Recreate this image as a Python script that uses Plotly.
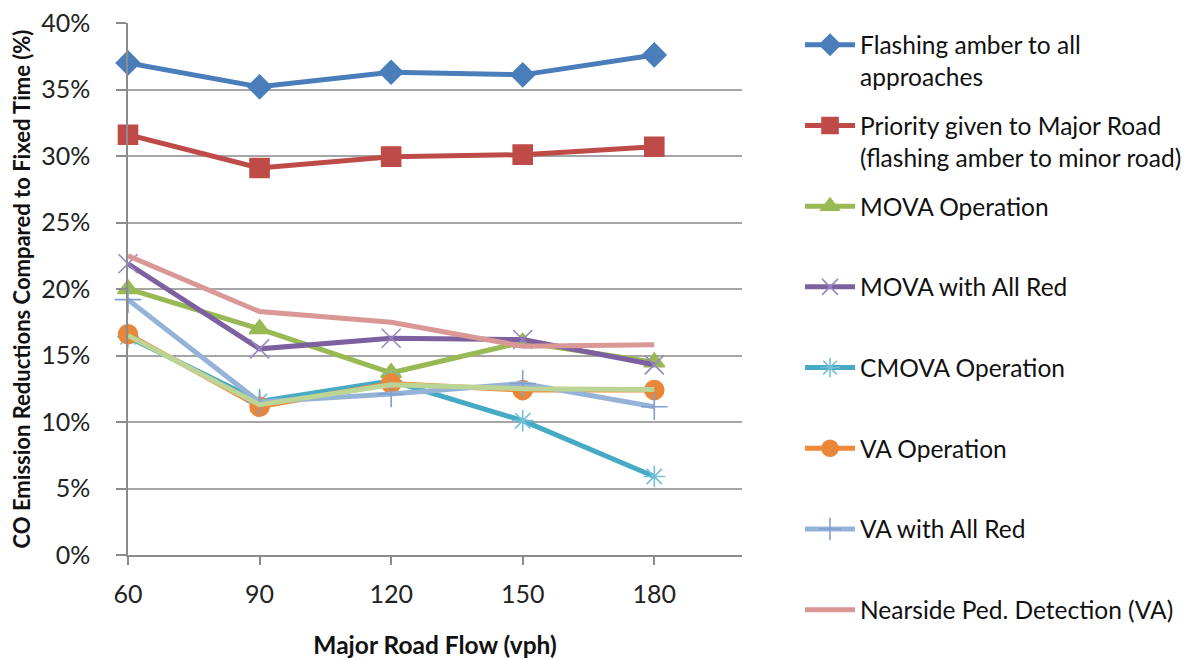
import plotly.graph_objects as go

flow = [60, 90, 120, 150, 180]
x_ticks = [60, 90, 120, 150, 180]
y_ticks = [0, 0.05, 0.10, 0.15, 0.20, 0.25, 0.30, 0.35, 0.40]
y_tick_labels = ["0%", "5%", "10%", "15%", "20%", "25%", "30%", "35%", "40%"]

flashing_all = [0.370, 0.352, 0.363, 0.361, 0.376]
priority_major = [0.316, 0.291, 0.2995, 0.301, 0.307]
mova_op = [0.200, 0.170, 0.137, 0.160, 0.145]
mova_all_red = [0.219, 0.155, 0.163, 0.162, 0.143]
cmova_op = [0.164, 0.1155, 0.131, 0.101, 0.059]
va_op = [0.166, 0.1115, 0.129, 0.124, 0.124]
va_all_red = [0.192, 0.115, 0.121, 0.129, 0.1115]
nearside_ped = [0.225, 0.183, 0.175, 0.157, 0.158]
unlabeled_series = [0.165, 0.113, 0.128, 0.125, 0.1245]

names = [
    "Flashing amber to all<br>approaches",
    "Priority given to Major Road<br>(flashing amber to minor road)",
    "MOVA Operation<br> ",
    "MOVA with All Red<br> ",
    "CMOVA Operation<br> ",
    "VA Operation<br> ",
    "VA with All Red<br> ",
    "Nearside Ped. Detection (VA)<br> ",
]

series = [flashing_all, priority_major, mova_op, mova_all_red, cmova_op,
          va_op, va_all_red, nearside_ped]
colors = ["#4A7EBB", "#BE4B48", "#98B954", "#7D60A0", "#46AAC5",
          "#F08A3A", "#95B3D7", "#D99795"]
marker_colors = ["#4A7EBB", "#BE4B48", "#98B954", "#9A86C2", "#6FC0D6",
                 "#E8873A", "#7F9FD0", "#D99795"]
symbols = ["diamond", "square", "triangle-up", "x-thin-open", "asterisk-open",
           "circle", "cross-thin-open", None]
sizes = [18, 19, 18, 19, 18, 19, 19, 0]

fig = go.Figure()
for i, (vals, nm) in enumerate(zip(series, names)):
    if symbols[i] is None:
        mode = "lines"
        marker = None
    else:
        mode = "lines+markers"
        marker = dict(symbol=symbols[i], size=sizes[i], color=marker_colors[i],
                      line=dict(width=1.6, color=marker_colors[i]))
    fig.add_trace(go.Scatter(
        x=flow, y=vals, name=nm, mode=mode,
        line=dict(color=colors[i], width=5),
        marker=marker, legendgroup=f"g{i}", cliponaxis=False,
    ))

fig.add_trace(go.Scatter(
    x=flow, y=unlabeled_series, mode="lines", showlegend=False,
    line=dict(color="#BCD596", width=5), name="", cliponaxis=False,
))

FONT = "Lato, 'Open Sans', sans-serif"
axis_font = dict(family=FONT, size=25, color="#222222")

fig.update_layout(
    width=1204, height=659,
    margin=dict(l=120, r=470, t=15, b=112, autoexpand=False),
    paper_bgcolor="white", plot_bgcolor="white",
    font=axis_font,
    legend=dict(
        x=1.0945, xanchor="left", y=1.0013, yanchor="top",
        valign="top", tracegroupgap=14, itemwidth=50, maxheight=700,
        font=dict(family=FONT, size=24.5, color="#111111"),
        bgcolor="rgba(0,0,0,0)",
    ),
    xaxis=dict(
        range=[60, 200], tickvals=x_ticks, ticktext=[str(v) for v in x_ticks],
        showgrid=False, zeroline=False, automargin=False,
        showline=True, linecolor="#8C8C8C", linewidth=1.5,
        ticks="outside", ticklen=8, tickcolor="#8C8C8C", tickwidth=1.5,
        ticklabelstandoff=8, ticklabeloverflow="allow",
        title=dict(text="<b>Major Road Flow (vph)</b>", standoff=30,
                   font=dict(family=FONT, size=24.5, color="#111111")),
    ),
    yaxis=dict(
        range=[0, 0.40], tickvals=y_ticks, ticktext=y_tick_labels,
        showgrid=True, gridcolor="#A6A6A6", gridwidth=1.5, zeroline=False,
        automargin=False,
        showline=True, linecolor="#8C8C8C", linewidth=1.5,
        ticks="outside", ticklen=10, tickcolor="#8C8C8C", tickwidth=1.5,
        ticklabelstandoff=21, ticklabeloverflow="allow",
        title=dict(text="<b>CO Emission Reductions Compared to Fixed Time (%)</b>", standoff=22,
                   font=dict(family=FONT, size=22, color="#111111")),
    ),
)

fig.write_html("out.html")
